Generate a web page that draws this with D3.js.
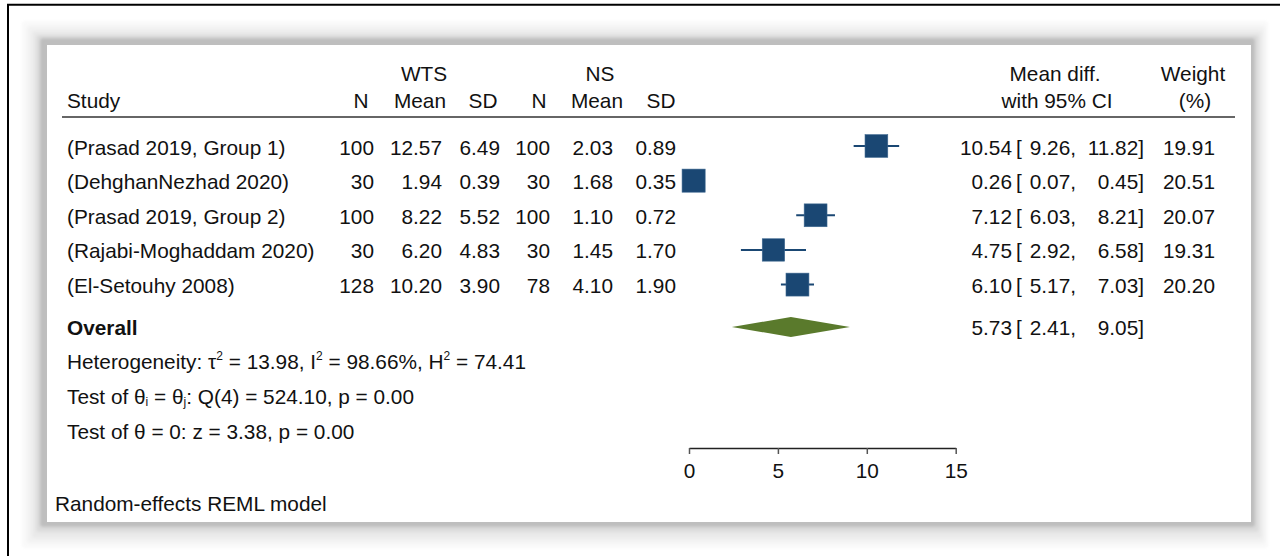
<!DOCTYPE html>
<html>
<head>
<meta charset="utf-8">
<script src="https://cdn.jsdelivr.net/npm/d3@7"></script>
<style>
  html, body { margin: 0; padding: 0; background: #fff; }
  svg text { font-family: "Liberation Sans", Arial, Helvetica, sans-serif; fill: #111; }
</style>
</head>
<body>
<svg id="chart" width="1287" height="556"></svg>
<script>
// ---------------- data ----------------
const studies = ["(Prasad 2019, Group 1)", "(DehghanNezhad 2020)", "(Prasad 2019, Group 2)", "(Rajabi-Moghaddam 2020)", "(El-Setouhy 2008)"];
const wtsN    = [100, 30, 100, 30, 128];
const wtsMean = [12.57, 1.94, 8.22, 6.20, 10.20];
const wtsSD   = [6.49, 0.39, 5.52, 4.83, 3.90];
const nsN     = [100, 30, 100, 30, 78];
const nsMean  = [2.03, 1.68, 1.10, 1.45, 4.10];
const nsSD    = [0.89, 0.35, 0.72, 1.70, 1.90];
const meanDiff = [10.54, 0.26, 7.12, 4.75, 6.10];
const ciLow    = [9.26, 0.07, 6.03, 2.92, 5.17];
const ciHigh   = [11.82, 0.45, 8.21, 6.58, 7.03];
const weights  = [19.91, 20.51, 20.07, 19.31, 20.20];
const overallEst = 5.73, overallLow = 2.41, overallHigh = 9.05;
const xTicks = [0, 5, 10, 15];

// ---------------- drawing ----------------
const svg = d3.select("#chart");
const FS = 20.8;
svg.append("rect").attr("width", 1287).attr("height", 556).attr("fill", "#fff");

// outer frame lines (left & top)
svg.append("line").attr("x1", 7).attr("x2", 1280).attr("y1", 4.7).attr("y2", 4.7)
  .attr("stroke", "#000").attr("stroke-width", 2);
svg.append("line").attr("x1", 8).attr("x2", 8).attr("y1", 4).attr("y2", 556)
  .attr("stroke", "#000").attr("stroke-width", 2);

// panel shadow
const defs = svg.append("defs");
defs.append("filter").attr("id", "soft").attr("x", "-5%").attr("y", "-5%").attr("width", "110%").attr("height", "110%")
  .append("feGaussianBlur").attr("stdDeviation", 1.8);
const P = {x0: 47, y0: 45, x1: 1251, y1: 522};
const layers = [
  {e: [25, 24, 17, 26], c: "#f9f9f9"},
  {e: [20, 19, 14, 21], c: "#f2f2f2"},
  {e: [15, 14, 11, 16], c: "#e9e9e9"},
  {e: [11, 10, 8, 10], c: "#dcdcdc"},
  {e: [7, 7, 4, 5], c: "#bebebe"}
];
const sh = svg.append("g").attr("filter", "url(#soft)");
layers.forEach(l => {
  sh.append("rect")
    .attr("x", P.x0 - l.e[0]).attr("y", P.y0 - l.e[1])
    .attr("width", (P.x1 + l.e[2]) - (P.x0 - l.e[0]))
    .attr("height", (P.y1 + l.e[3]) - (P.y0 - l.e[1]))
    .attr("rx", 3).attr("fill", l.c);
});
svg.append("rect").attr("x", P.x0).attr("y", P.y0)
  .attr("width", P.x1 - P.x0).attr("height", P.y1 - P.y0).attr("fill", "#fff");

const g = svg.append("g");
function txt(x, y, s, anchor, opts) {
  const t = g.append("text").attr("x", x).attr("y", y).attr("font-size", FS)
    .attr("text-anchor", anchor || "start").text(s);
  if (opts && opts.bold) t.attr("font-weight", "bold");
  return t;
}

// headers
const H1 = 81, H2 = 108;
txt(424, H1, "WTS", "middle");
txt(600, H1, "NS", "middle");
txt(1055, H1, "Mean diff.", "middle");
txt(1193, H1, "Weight", "middle");
txt(67, H2, "Study");
txt(361, H2, "N", "middle");
txt(420, H2, "Mean", "middle");
txt(483, H2, "SD", "middle");
txt(539, H2, "N", "middle");
txt(597, H2, "Mean", "middle");
txt(661, H2, "SD", "middle");
txt(1057, H2, "with 95% CI", "middle");
txt(1195, H2, "(%)", "middle");
g.append("line").attr("x1", 62).attr("x2", 1235).attr("y1", 117).attr("y2", 117)
  .attr("stroke", "#333").attr("stroke-width", 1.5);

// scales
const x = d3.scaleLinear().domain([0, 15]).range([689, 955.7]);
const y = d3.scalePoint().domain(d3.range(studies.length)).range([146, 284.6]);
const f2 = d3.format(".2f");

const cols = [
  {x: 374, v: wtsN, f: d => d},
  {x: 442, v: wtsMean, f: f2},
  {x: 500, v: wtsSD, f: f2},
  {x: 550, v: nsN, f: d => d},
  {x: 613, v: nsMean, f: f2},
  {x: 676, v: nsSD, f: f2}
];

studies.forEach((s, i) => {
  const yb = y(i) + 8.5;
  txt(67, yb, s);
  cols.forEach(c => txt(c.x, yb, c.f(c.v[i]), "end"));
  txt(1012, yb, f2(meanDiff[i]), "end");
  txt(1016, yb, "[", "start");
  txt(1076, yb, f2(ciLow[i]) + ",", "end");
  txt(1144, yb, f2(ciHigh[i]) + "]", "end");
  txt(1215, yb, f2(weights[i]), "end");
});

// CI lines and squares
const blue = "#1a4773";
g.selectAll(".ci").data(studies).join("line")
  .attr("x1", (d, i) => x(ciLow[i])).attr("x2", (d, i) => x(ciHigh[i]))
  .attr("y1", (d, i) => y(i)).attr("y2", (d, i) => y(i))
  .attr("stroke", blue).attr("stroke-width", 2);
g.selectAll(".sq").data(studies).join("rect")
  .attr("x", (d, i) => x(meanDiff[i]) - 5.1 * Math.sqrt(weights[i]) / 2)
  .attr("y", (d, i) => y(i) - 5.1 * Math.sqrt(weights[i]) / 2)
  .attr("width", (d, i) => 5.1 * Math.sqrt(weights[i]))
  .attr("height", (d, i) => 5.1 * Math.sqrt(weights[i]))
  .attr("fill", blue).attr("stroke", "#3e6890").attr("stroke-width", 0.6);

// overall
const yO = 327;
txt(67, yO + 8, "Overall", "start", {bold: true});
g.append("path")
  .attr("d", `M${x(overallLow)},${yO} L${x(overallEst)},${yO - 10} L${x(overallHigh)},${yO} L${x(overallEst)},${yO + 10} Z`)
  .attr("fill", "#5a7a2c");
txt(1012, yO + 8, f2(overallEst), "end");
txt(1016, yO + 8, "[", "start");
txt(1076, yO + 8, f2(overallLow) + ",", "end");
txt(1144, yO + 8, f2(overallHigh) + "]", "end");

// heterogeneity texts
function sup(t, s) { t.append("tspan").attr("font-size", 12).attr("dy", -9).text(s); }
const ht = g.append("text").attr("x", 67).attr("y", 369).attr("font-size", FS);
ht.append("tspan").text("Heterogeneity: τ");
sup(ht, "2");
ht.append("tspan").attr("dy", 9).text(" = 13.98, I");
sup(ht, "2");
ht.append("tspan").attr("dy", 9).text(" = 98.66%, H");
sup(ht, "2");
ht.append("tspan").attr("dy", 9).text(" = 74.41");

const t2 = g.append("text").attr("x", 67).attr("y", 404).attr("font-size", FS);
t2.append("tspan").text("Test of θ");
t2.append("tspan").attr("font-size", 12).attr("dy", 2).text("i");
t2.append("tspan").attr("dy", -2).text(" = θ");
t2.append("tspan").attr("font-size", 12).attr("dy", 2).text("j");
t2.append("tspan").attr("dy", -2).text(": Q(4) = 524.10, p = 0.00");

txt(67, 439, "Test of θ = 0: z = 3.38, p = 0.00");
txt(55, 511, "Random-effects REML model");

// axis
const ax = g.append("g").attr("transform", "translate(0,448)")
  .call(d3.axisBottom(x).tickValues(xTicks).tickSizeInner(6).tickSizeOuter(0).tickPadding(9).tickFormat(d3.format("d")));
ax.select(".domain").attr("stroke", "#222").attr("stroke-width", 1.5);
ax.selectAll(".tick line").attr("stroke", "#555").attr("stroke-width", 1.5);
ax.selectAll(".tick text").attr("font-size", FS).attr("fill", "#111")
  .attr("font-family", "'Liberation Sans', Arial, sans-serif");
</script>
</body>
</html>
